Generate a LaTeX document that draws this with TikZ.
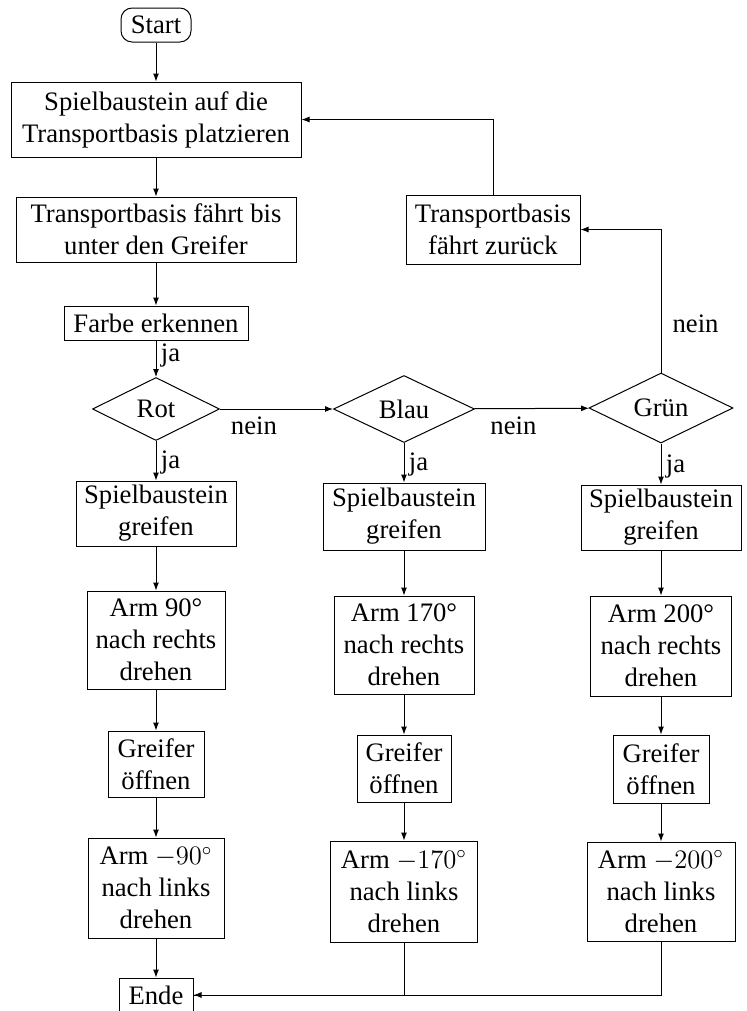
\documentclass[tikz,border=0pt]{standalone}
\usepackage{fontspec}
\setmainfont{Liberation Serif}
\usetikzlibrary{shapes.geometric,arrows.meta}
\begin{document}
\begin{tikzpicture}[x=0.45pt,y=-0.45pt,
  font=\fontsize{12pt}{14.4pt}\selectfont,
  line width=0.45pt,
  bx/.style 2 args={draw, align=center, inner sep=0pt,
    minimum width=#1*0.45pt, minimum height=#2*0.45pt},
  dm/.style 2 args={draw, diamond, aspect=2, inner sep=0pt,
    minimum width=#1*0.45pt, minimum height=#2*0.45pt},
  arr/.style={-{Latex[length=3.6pt,width=2.7pt]}},
  lbl/.style={inner sep=2pt}]
\useasboundingbox (0,0) rectangle (747,1011);

\node[bx={70}{34}, rounded corners=5pt] (start) at (156,25) {Start};
\node[bx={290}{75}] (b1) at (156,119.5) {Spielbaustein auf die\\Transportbasis platzieren};
\node[bx={280}{65}] (b2) at (156,229.5) {Transportbasis fährt bis\\unter den Greifer};
\node[bx={184}{34}] (b3) at (156,323) {Farbe erkennen};
\node[bx={174}{69}] (back) at (493,229.5) {Transportbasis\\fährt zurück};

\node[dm={127}{63}] (rot) at (156,409) {Rot};
\node[dm={141}{67}] (blau) at (404,409) {Blau};
\node[dm={144}{70}] (gruen) at (661,408) {Grün};

\node[bx={160}{65}] (r1) at (156,513.5) {Spielbaustein\\greifen};
\node[bx={138}{98}] (r2) at (156,640) {Arm 90°\\nach rechts\\drehen};
\node[bx={96}{66}] (r3) at (156,764) {Greifer\\öffnen};
\node[bx={136}{100}] (r4) at (156,888) {Arm $-90^\circ$\\nach links\\drehen};

\node[bx={162}{67}] (l1) at (404,516.5) {Spielbaustein\\greifen};
\node[bx={140}{98}] (l2) at (404,645) {Arm 170°\\nach rechts\\drehen};
\node[bx={94}{67}] (l3) at (404,768.5) {Greifer\\öffnen};
\node[bx={147}{101}] (l4) at (404,891.5) {Arm $-170^\circ$\\nach links\\drehen};

\node[bx={160}{65}] (g1) at (661,517.5) {Spielbaustein\\greifen};
\node[bx={141}{100}] (g2) at (661,646) {Arm 200°\\nach rechts\\drehen};
\node[bx={96}{68}] (g3) at (661,769) {Greifer\\öffnen};
\node[bx={148}{99}] (g4) at (661,891.5) {Arm $-200^\circ$\\nach links\\drehen};

\node[bx={74}{34}] (ende) at (156,995) {Ende};

\draw[arr] (start) -- (b1);
\draw[arr] (b1) -- (b2);
\draw[arr] (b2) -- (b3);
\draw[arr] (b3) -- node[lbl, right, pos=0.4] {ja} (rot);
\draw[arr] (rot) -- node[below, pos=0.3] {nein} (blau);
\draw[arr] (blau) -- node[below, pos=0.34] {nein} (gruen);
\draw[arr] (gruen.north) |- node[lbl, right, pos=0.17, xshift=3pt] {nein} (back.east);
\draw[arr] (back.north) |- (b1.east);

\draw[arr] (rot) -- node[lbl, right, pos=0.55] {ja} (r1);
\draw[arr] (r1) -- (r2);
\draw[arr] (r2) -- (r3);
\draw[arr] (r3) -- (r4);
\draw[arr] (r4) -- (ende);

\draw[arr] (blau) -- node[lbl, right, pos=0.55] {ja} (l1);
\draw[arr] (l1) -- (l2);
\draw[arr] (l2) -- (l3);
\draw[arr] (l3) -- (l4);

\draw[arr] (gruen) -- node[lbl, right, pos=0.55] {ja} (g1);
\draw[arr] (g1) -- (g2);
\draw[arr] (g2) -- (g3);
\draw[arr] (g3) -- (g4);

\draw (l4.south) |- (ende.east);
\draw[arr] (g4.south) |- (ende.east);
\end{tikzpicture}
\end{document}
